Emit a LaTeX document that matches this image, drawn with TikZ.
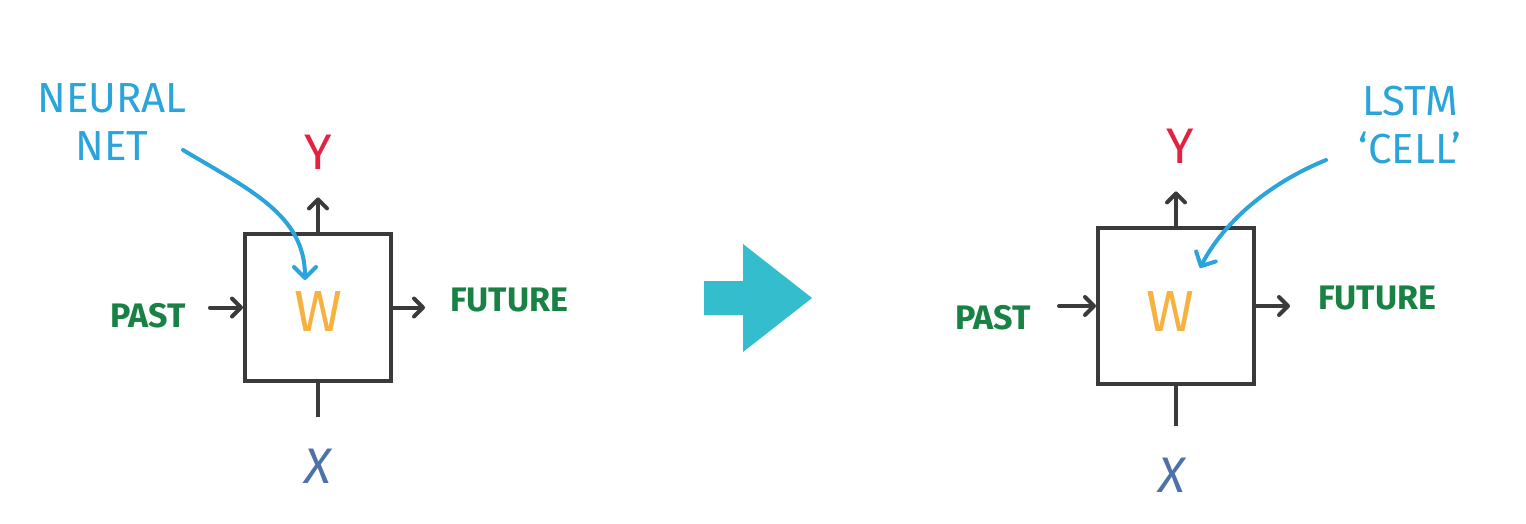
\documentclass[tikz,border=0pt]{standalone}
\usepackage{fontspec}
\setmainfont{Fira Sans}
\usetikzlibrary{arrows.meta}
\definecolor{ink}{HTML}{3A3A3A}
\definecolor{lblgreen}{HTML}{178244}
\definecolor{lblblue}{HTML}{2AA4DA}
\definecolor{lblred}{HTML}{E2233F}
\definecolor{lblorange}{HTML}{F7B13E}
\definecolor{lblslate}{HTML}{4D72A8}
\definecolor{teal}{HTML}{33BDCD}
\begin{document}
\begin{tikzpicture}[x=1pt,y=-1pt,
  cellbox/.style={draw=ink, line width=4pt, fill=white, inner sep=0pt},
  conn/.style={draw=ink, line width=4pt, line cap=round,
     -{Straight Barb[length=9pt,width=18pt,line width=4pt,round]}},
  plainconn/.style={draw=ink, line width=4pt},
  note/.style={draw=lblblue, line width=4pt, line cap=round,
     -{Straight Barb[length=11pt,width=22pt,line width=4pt,round]}},
  greenlbl/.style={text=lblgreen, font=\fontsize{34}{40}\selectfont\bfseries, inner sep=0pt},
  bluelbl/.style={text=lblblue, font=\fontsize{42}{48}\selectfont, align=center, inner sep=0pt},
  ylbl/.style={text=lblred, font=\fontsize{50}{56}\selectfont, inner sep=0pt},
  xlbl/.style={text=lblslate, font=\fontsize{50}{56}\selectfont\itshape, inner sep=0pt},
  wlbl/.style={text=lblorange, font=\fontsize{58}{64}\selectfont, inner sep=0pt}
]
\useasboundingbox (0,0) rectangle (1526,524);

% ---------- left cell ----------
\node[cellbox, minimum width=146pt, minimum height=147pt] (lbox) at (318,307.5) {};
\node[wlbl] (lw) at (318,312) {W};
\node[ylbl] (ly) at (318,152) {Y};
\node[xlbl] (lx) at (318,466) {X};
\node[greenlbl, anchor=east] (lpast) at (186,316) {PAST};
\node[greenlbl, anchor=west] (lfut) at (450,300) {FUTURE};
\node[bluelbl] (lnn) at (112,122) {NEURAL\\NET};

\draw[conn] (lbox.north) -- ([yshift=-28pt]lbox.north |- ly.south);
\draw[conn] ([xshift=24pt]lpast.east |- lbox.west) -- (lbox.west);
\draw[conn] (lbox.east) -- ([xshift=-25pt]lfut.west |- lbox.east);
\draw[plainconn] (lbox.south) -- ([yshift=32pt]lbox.south |- lx.north);
\coordinate (lnnstart) at (183,150);
\draw[note] (lnnstart) .. controls (250,190) and (305,215) .. (305,280);

% ---------- big arrow ----------
\fill[teal] (704,281) -- (743,281) -- (743,244) -- (812,298) -- (743,352) -- (743,315) -- (704,315) -- cycle;

% ---------- right cell ----------
\node[cellbox, minimum width=156pt, minimum height=156pt] (rbox) at (1176,306) {};
\node[wlbl] (rw) at (1170,312) {W};
\node[ylbl] (ry) at (1180,146) {Y};
\node[xlbl] (rx) at (1172,475) {X};
\node[greenlbl, anchor=east] (rpast) at (1031,318) {PAST};
\node[greenlbl, anchor=west] (rfut) at (1318,298) {FUTURE};
\node[bluelbl] (rcell) at (1410,125) {LSTM\\`CELL'};

\draw[conn] (rbox.north) -- ([yshift=-28pt]rbox.north |- ry.south);
\draw[conn] ([xshift=28pt]rpast.east |- rbox.west) -- (rbox.west);
\draw[conn] (rbox.east) -- ([xshift=-28pt]rfut.west |- rbox.east);
\draw[plainconn] (rbox.south) -- ([yshift=32pt]rbox.south |- rx.north);
\coordinate (rcellstart) at (1326,160);
\draw[note] (rcellstart) .. controls (1265,185) and (1222,225) .. (1200,268);
\end{tikzpicture}
\end{document}
